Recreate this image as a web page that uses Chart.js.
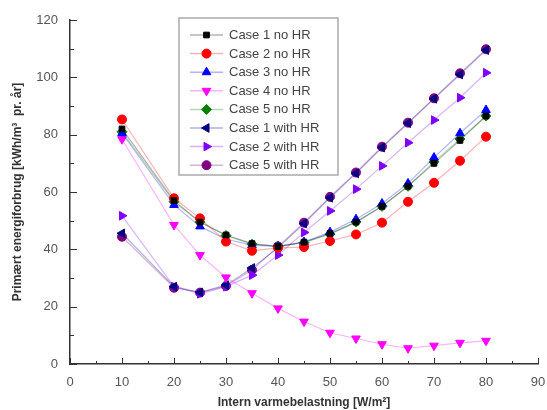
<!DOCTYPE html>
<html>
<head>
<meta charset="utf-8">
<script src="https://cdn.jsdelivr.net/npm/chart.js@4.4.1/dist/chart.umd.min.js"></script>
<style>
  html, body { margin: 0; padding: 0; background: #fff; }
  #wrap { width: 547px; height: 410px; position: relative; }
</style>
</head>
<body>
<div id="wrap"><canvas id="chart"></canvas></div>
<script>
// internal heat load [W/m2]
const loads = [10, 20, 25, 30, 35, 40, 45, 50, 55, 60, 65, 70, 75, 80];

// primary energy use [kWh/m3 pr. year]
const case1NoHR = [82, 57, 49.5, 45, 42, 41, 42.5, 45.5, 49.5, 55, 62, 70, 78, 86.5];
const case2NoHR = [85.3, 57.8, 50.8, 42.7, 39.5, 40.5, 40.8, 42.9, 45.2, 49.3, 56.6, 63.2, 70.9, 79.3];
const case3NoHR = [80.5, 55.5, 48, 43.5, 41.5, 41, 42.5, 46, 50.5, 56, 63, 72, 80.5, 88.6];
const case4NoHR = [78.4, 48.5, 38, 30.2, 24.7, 19.4, 14.8, 10.9, 8.9, 6.9, 5.5, 6.4, 7.4, 8.1];
const case5NoHR = [81, 56.6, 49.5, 44.8, 41.8, 41, 42.3, 45.3, 49.5, 55, 62, 70.5, 78.5, 86.5];
const case1HR = [45.6, 27, 25, 27.5, 33.5, 40.5, 49, 58, 66.5, 75.5, 84, 92.5, 101, 109.5];
const case2HR = [51.7, 27, 24.5, 27, 31, 38, 45.9, 53.4, 61, 69.1, 77.2, 85.1, 92.9, 101.6];
const case5HR = [44.4, 26.6, 24.9, 27.2, 32.8, 41, 49.3, 58.3, 66.8, 75.8, 84.2, 92.7, 101.4, 109.8];

const seriesNames = ['Case 1 no HR', 'Case 2 no HR', 'Case 3 no HR', 'Case 4 no HR',
                     'Case 5 no HR', 'Case 1 with HR', 'Case 2 with HR', 'Case 5 with HR'];
const seriesValues = [case1NoHR, case2NoHR, case3NoHR, case4NoHR, case5NoHR, case1HR, case2HR, case5HR];

const yTicks = [0, 20, 40, 60, 80, 100, 120];
const xTicks = [0, 10, 20, 30, 40, 50, 60, 70, 80, 90];

// marker look per series (origin style)
const styles = [
  { color: '0,0,0',     point: 'rect',     rot: 0,   r: 4 },
  { color: '255,0,0',   point: 'circle',   rot: 0,   r: 4.5 },
  { color: '0,0,255',   point: 'triangle', rot: 0,   r: 5 },
  { color: '255,0,255', point: 'triangle', rot: 180, r: 5 },
  { color: '0,128,0',   point: 'rectRot',  rot: 0,   r: 5 },
  { color: '0,0,128',   point: 'triangle', rot: -90, r: 5 },
  { color: '128,0,255', point: 'triangle', rot: 90,  r: 5 },
  { color: '128,0,128', point: 'circle',   rot: 0,   r: 4.5 }
];

const datasets = seriesNames.map((name, i) => ({
  label: name,
  data: loads.map((x, j) => ({ x: x, y: seriesValues[i][j] })),
  borderColor: 'rgba(' + styles[i].color + ',0.3)',
  borderWidth: 1.2,
  backgroundColor: 'rgb(' + styles[i].color + ')',
  pointBorderColor: 'rgb(' + styles[i].color + ')',
  pointBackgroundColor: 'rgb(' + styles[i].color + ')',
  pointStyle: styles[i].point,
  pointRotation: styles[i].rot,
  pointRadius: styles[i].r,
  pointBorderWidth: 1,
  tension: 0,
  fill: false
}));

// inward tick marks, origin-like
const innerTicks = {
  id: 'innerTicks',
  afterDraw(chart) {
    const ctx = chart.ctx;
    const xs = chart.scales.x, ys = chart.scales.y;
    const area = chart.chartArea;
    ctx.save();
    ctx.strokeStyle = '#333';
    ctx.lineWidth = 1;
    ctx.beginPath();
    for (let v = 0; v <= 120; v += 10) {
      const py = Math.round(ys.getPixelForValue(v)) + 0.5;
      const len = v % 20 === 0 ? 7 : 4;
      ctx.moveTo(area.left, py);
      ctx.lineTo(area.left + len, py);
    }
    for (let v = 0; v <= 90; v += 5) {
      const px = Math.round(xs.getPixelForValue(v)) + 0.5;
      const len = v % 10 === 0 ? 6 : 3;
      ctx.moveTo(px, area.bottom);
      ctx.lineTo(px, area.bottom - len);
    }
    ctx.stroke();
    ctx.restore();
  }
};

// legend box inside the plot
const boxLegend = {
  id: 'boxLegend',
  afterDraw(chart) {
    const ctx = chart.ctx;
    const left = 179, top = 18, w = 159, h = 157;
    ctx.save();
    ctx.fillStyle = '#fff';
    ctx.fillRect(left, top, w, h);
    ctx.strokeStyle = '#aaa';
    ctx.lineWidth = 1.5;
    ctx.strokeRect(left, top, w, h);
    ctx.font = '13px "Liberation Sans", Arial, sans-serif';
    ctx.textBaseline = 'middle';
    chart.data.datasets.forEach((ds, i) => {
      const y = 35 + i * 18.6;
      ctx.strokeStyle = ds.borderColor;
      ctx.lineWidth = 1.5;
      ctx.beginPath();
      ctx.moveTo(190, y);
      ctx.lineTo(223, y);
      ctx.stroke();
      ctx.fillStyle = ds.pointBackgroundColor;
      ctx.strokeStyle = ds.pointBorderColor;
      ctx.lineWidth = 1;
      Chart.helpers.drawPoint(ctx, {
        pointStyle: ds.pointStyle,
        rotation: ds.pointRotation,
        radius: ds.pointRadius,
        borderWidth: 1
      }, 206.5, y);
      ctx.fillStyle = '#444';
      ctx.fillText(ds.label, 229, y + 0.5);
    });
    ctx.restore();
  }
};

const ctx = document.getElementById('chart').getContext('2d');
new Chart(ctx, {
  type: 'line',
  data: { datasets: datasets },
  options: {
    responsive: true,
    maintainAspectRatio: false,
    animation: false,
    layout: { padding: { top: 20, right: 9, left: 0, bottom: 0 } },
    plugins: {
      legend: { display: false },
      tooltip: { enabled: false }
    },
    scales: {
      x: {
        type: 'linear',
        min: 0,
        max: 90,
        afterBuildTicks: s => { s.ticks = xTicks.map(v => ({ value: v })); },
        afterFit: s => { s.height = 46; s.paddingRight = 0; },
        grid: { display: false },
        border: { display: true, color: '#333', width: 1.5 },
        ticks: {
          color: '#555',
          padding: 3,
          maxRotation: 0,
          font: { family: '"Liberation Sans", Arial, sans-serif', size: 13 }
        },
        title: {
          display: true,
          text: 'Intern varmebelastning [W/m²]',
          color: '#333',
          padding: { top: 0, bottom: 0 },
          font: { family: '"Liberation Sans", Arial, sans-serif', size: 12, weight: 'bold' }
        }
      },
      y: {
        min: 0,
        max: 120,
        afterBuildTicks: s => { s.ticks = yTicks.map(v => ({ value: v })); },
        afterFit: s => { s.width = 70; },
        grid: { display: false },
        border: { display: true, color: '#333', width: 1.5 },
        ticks: {
          color: '#555',
          padding: 4,
          font: { family: '"Liberation Sans", Arial, sans-serif', size: 13 }
        },
        title: {
          display: true,
          text: 'Primært energiforbrug [kWh/m³  pr. år]',
          color: '#333',
          padding: { top: 10, bottom: 0 },
          font: { family: '"Liberation Sans", Arial, sans-serif', size: 12, weight: 'bold' }
        }
      }
    }
  },
  plugins: [innerTicks, boxLegend]
});
</script>
</body>
</html>
